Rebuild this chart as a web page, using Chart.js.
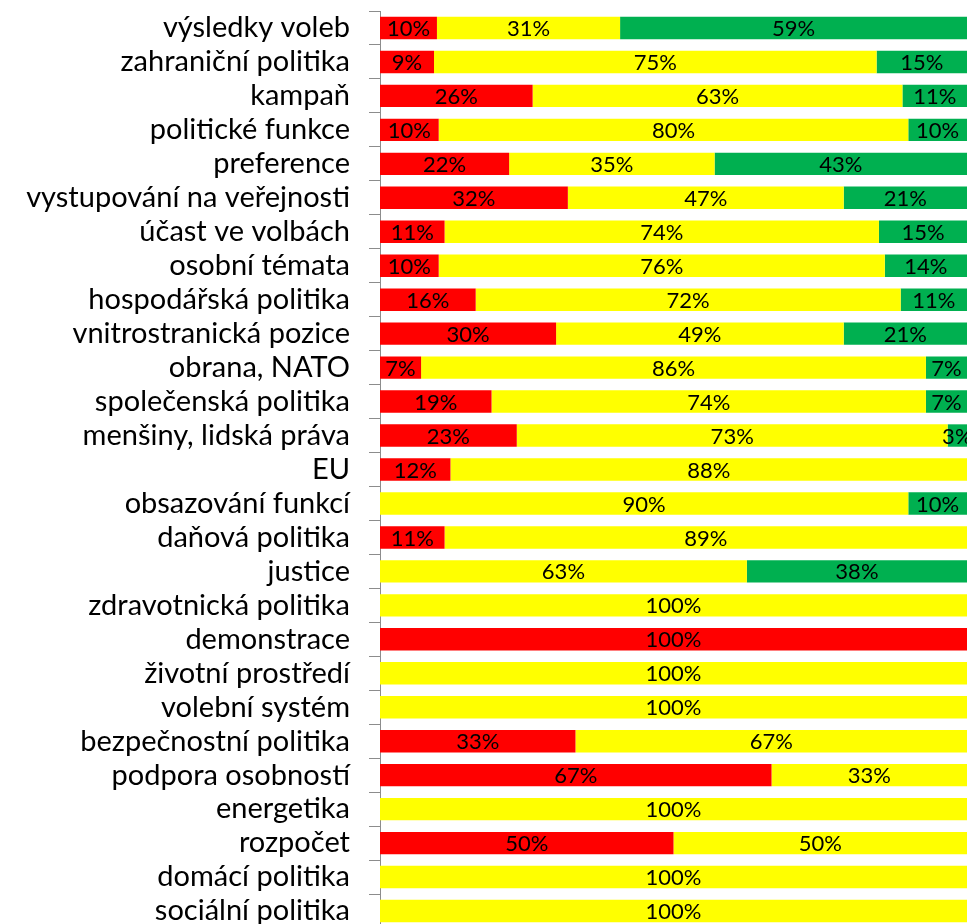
<!DOCTYPE html>
<html><head><meta charset="utf-8">
<script src="https://cdn.jsdelivr.net/npm/chart.js@4/dist/chart.umd.min.js"></script>
<style>
html,body{margin:0;padding:0;background:#fff;overflow:hidden;}
#wrap{position:relative;width:967px;height:940px;}
</style></head>
<body>
<div id="wrap"><canvas id="c"></canvas></div>
<script>
const categories = ["výsledky voleb","zahraniční politika","kampaň","politické funkce","preference","vystupování na veřejnosti","účast ve volbách","osobní témata","hospodářská politika","vnitrostranická pozice","obrana, NATO","společenská politika","menšiny, lidská práva","EU","obsazování funkcí","daňová politika","justice","zdravotnická politika","demonstrace","životní prostředí","volební systém","bezpečnostní politika","podpora osobností","energetika","rozpočet","domácí politika","sociální politika"];
const negative = [9.7,9.2,26,10,22,32,11,10,16.3,30,7,19,23.3,12,0,11,0,0,100,0,0,33.3,66.7,0,50,0,0];
const neutral  = [31.2,75.4,63,80,35,47,74,76,72.4,49,86,74,73.4,88,90,89,62.5,100,0,100,100,66.7,33.3,100,50,100,100];
const positive = [59.1,15.4,11,10,43,21,15,14,11.3,21,7,7,3.3,0,10,0,37.5,0,0,0,0,0,0,0,0,0,0];

const FONT = "Lato, 'Open Sans', sans-serif";

const valueLabels = {
  id:'valueLabels',
  afterDatasetsDraw(chart){
    const ctx = chart.ctx;
    ctx.save();
    ctx.font = "22px " + FONT;
    ctx.fillStyle = "#000";
    ctx.textAlign = "center";
    ctx.textBaseline = "middle";
    chart.data.datasets.forEach((ds,di)=>{
      const meta = chart.getDatasetMeta(di);
      meta.data.forEach((bar,i)=>{
        const v = ds.data[i];
        if(!v) return;
        const x = (bar.x + bar.base)/2;
        ctx.fillText(Math.round(v) + "%", x, bar.y + 1);
      });
    });
    ctx.restore();
  }
};

new Chart(document.getElementById('c'), {
  type:'bar',
  data:{
    labels: categories,
    datasets:[
      {label:'negativní', data:negative, backgroundColor:'#FF0000', borderWidth:0},
      {label:'neutrální', data:neutral, backgroundColor:'#FFFF00', borderWidth:0},
      {label:'pozitivní', data:positive, backgroundColor:'#00B050', borderWidth:0}
    ]
  },
  options:{
    indexAxis:'y',
    responsive:true,
    maintainAspectRatio:false,
    animation:false,
    layout:{padding:{top:11,bottom:12,right:0,left:0}},
    datasets:{bar:{barPercentage:0.66,categoryPercentage:1}},
    plugins:{legend:{display:false},tooltip:{enabled:false}},
    scales:{
      x:{stacked:true,min:0,max:100,display:false},
      y:{
        stacked:true,
        afterFit(s){ s.width = 380; s.paddingTop = 0; s.paddingBottom = 0; },
        border:{display:true,color:'#8c8c8c',width:1},
        grid:{drawOnChartArea:false,offset:true,tickLength:11,color:'#8c8c8c'},
        ticks:{color:'#000',font:{family:FONT,size:29},padding:19,autoSkip:false}
      }
    }
  },
  plugins:[valueLabels]
});
</script>
</body></html>
